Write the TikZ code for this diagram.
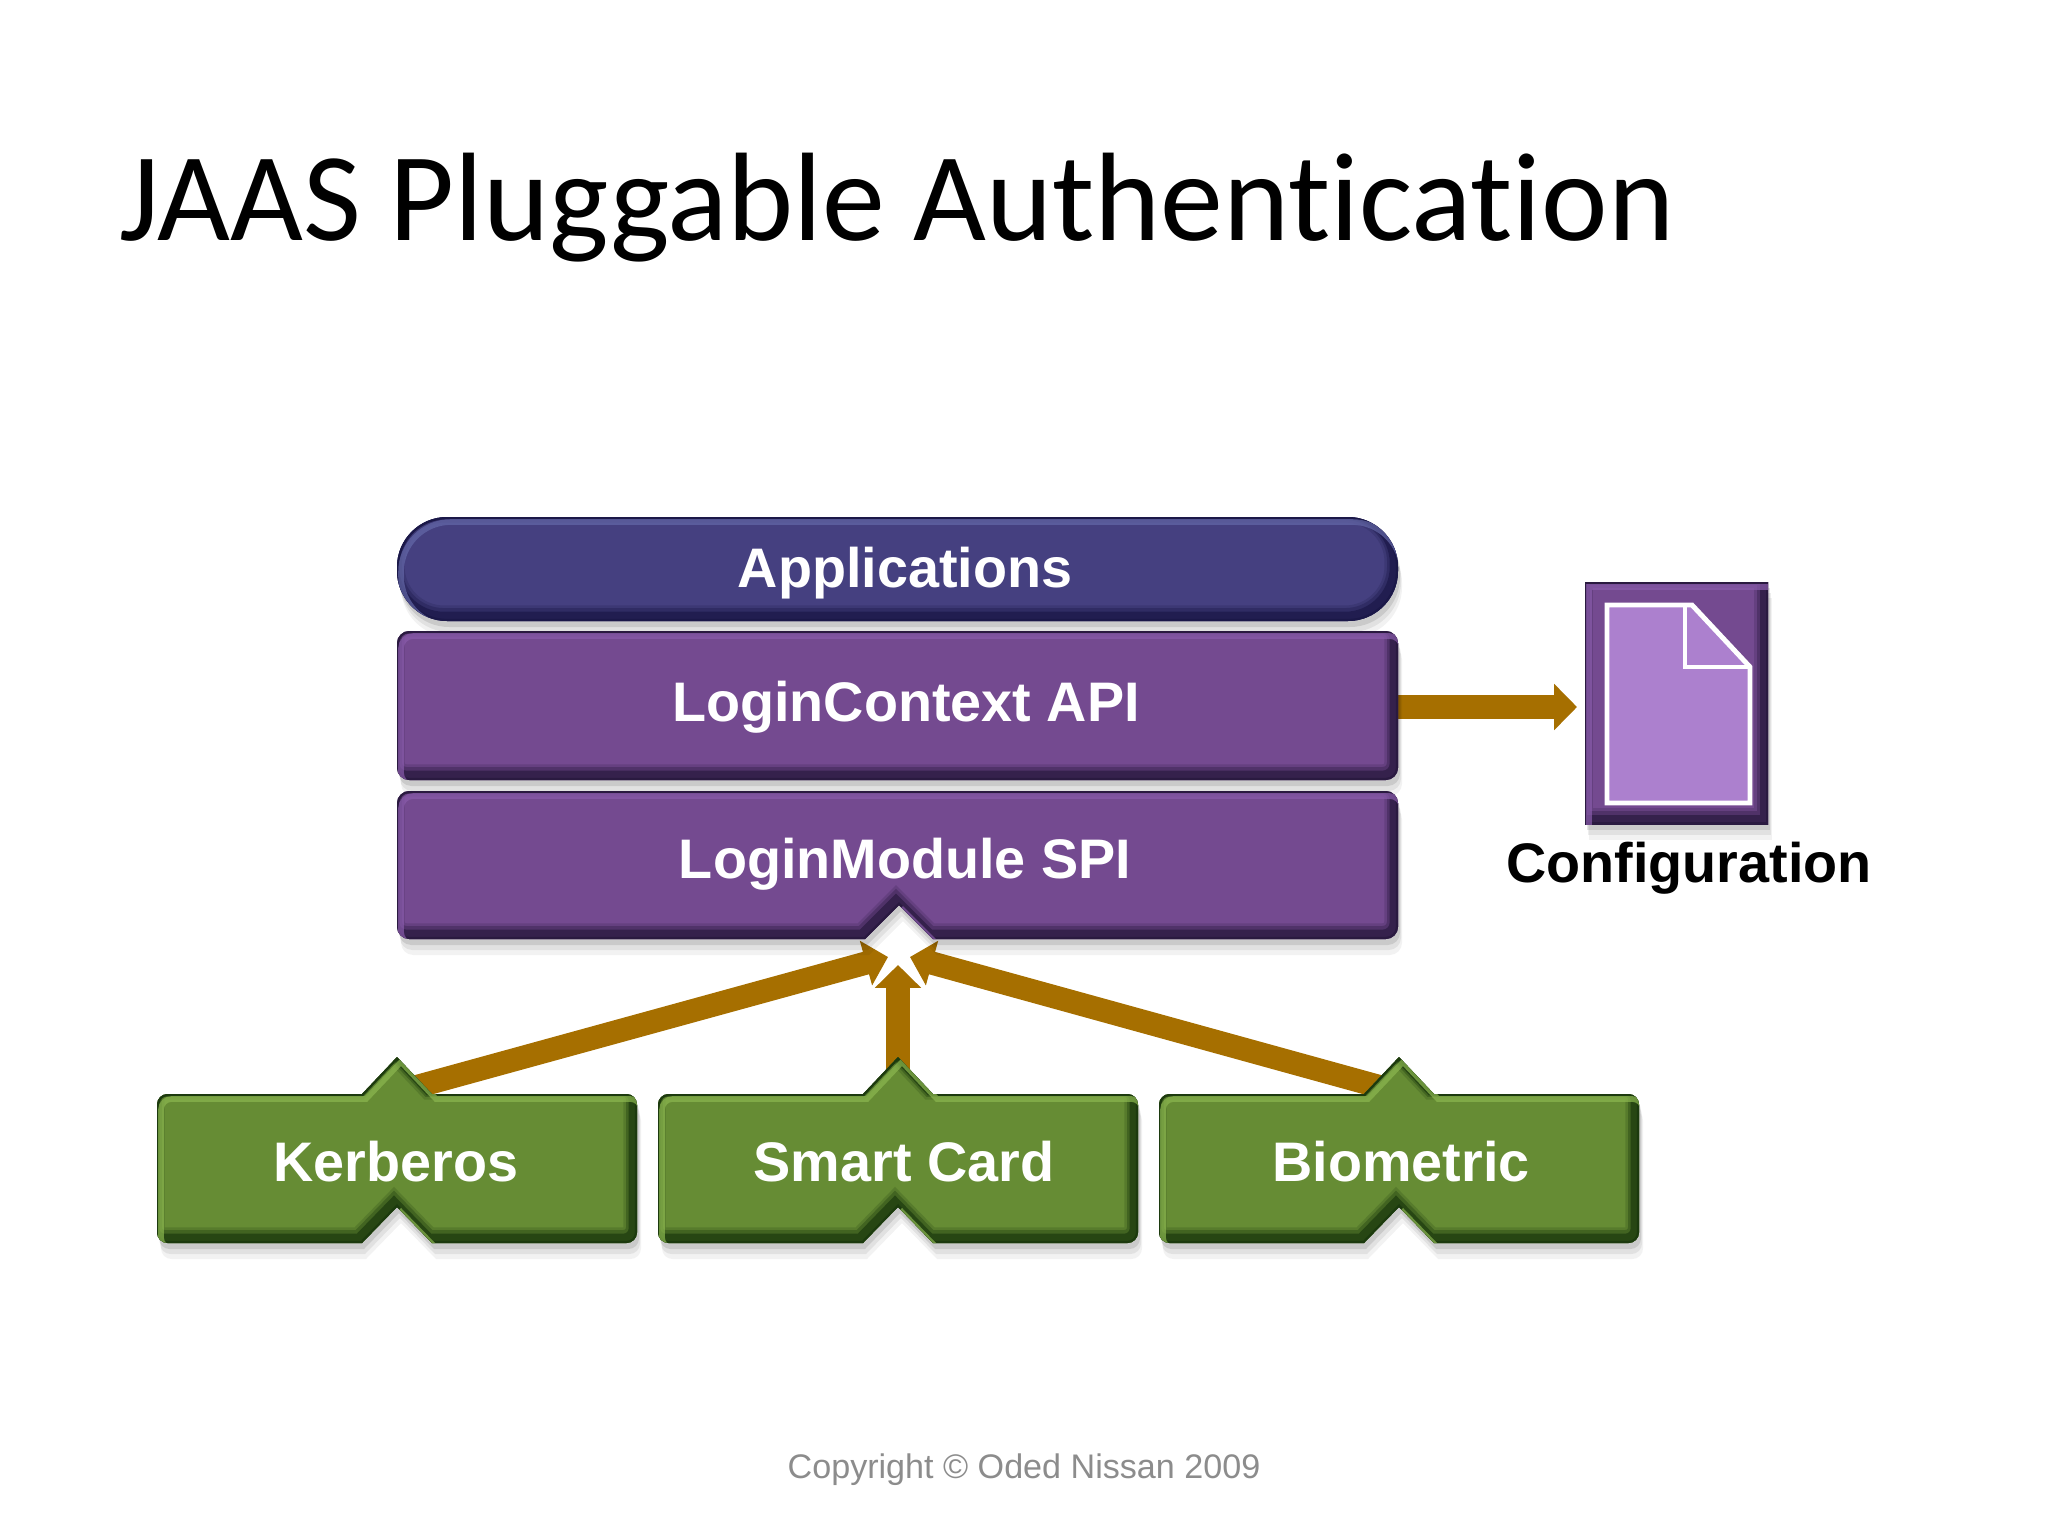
\documentclass[tikz,border=0pt]{standalone}
\usepackage{fontspec}
\setmainfont{Liberation Sans}
\newfontfamily\titlefont[Ligatures=NoCommon]{Carlito}
\usepackage{xcolor}
\usepackage{tikz}
\usetikzlibrary{arrows.meta,positioning}
\definecolor{navy}{HTML}{454080}
\definecolor{navydark}{HTML}{1B1848}
\definecolor{navylite}{HTML}{6468A8}
\definecolor{plum}{HTML}{744A90}
\definecolor{plumdark}{HTML}{2A1A40}
\definecolor{plumlite}{HTML}{8A5CAC}
\definecolor{moss}{HTML}{668C34}
\definecolor{mossdark}{HTML}{1C3A0E}
\definecolor{mosslite}{HTML}{8CB850}
\definecolor{amber}{HTML}{A66F00}
\definecolor{lilac}{HTML}{AC80CE}
\definecolor{slate}{HTML}{8C8C8C}
\tikzset{
  flow/.style={amber,line width=6.6pt,-{Triangle[length=6.5pt,width=12.8pt]}},
  boxlabel/.style={anchor=base,text=white,font=\fontsize{15.85}{18}\selectfont\bfseries,inner sep=0pt},
}
% bevelled block: #1 the path, #2 the colour family
\newcommand{\gembox}[2]{
\fill[black,opacity=.05,shift={(4,16)}] #1;
\fill[black,opacity=.07,shift={(3,11)}] #1;
\fill[black,opacity=.10,shift={(2,6)}] #1;
\begin{scope}
\clip #1;
\fill[#2] (0,0) rectangle (2048,1536);
\draw[#2dark,opacity=.2,line width=6pt,shift={(-3,-5)}] #1;
\draw[#2dark,opacity=.35,line width=4.5pt,shift={(-3,-5)}] #1;
\draw[#2dark,opacity=.7,line width=3pt,shift={(-3,-4)}] #1;
\draw[#2dark,line width=1.2pt] #1;
\draw[#2lite,opacity=.7,line width=1.6pt,shift={(4,5)}] #1;
\end{scope}
}
\newcommand{\greenpath}[1]{[rounded corners=3pt] (#1-100,1094) -- (#1-240,1094) -- (#1-240,1243) [sharp corners] -- (#1-35,1243) -- (#1,1207) -- (#1+35,1243) [rounded corners=3pt] -- (#1+240,1243) -- (#1+240,1094) [sharp corners] -- (#1+35,1094) -- (#1,1057) -- (#1-35,1094) -- cycle}
\begin{document}
\begin{tikzpicture}[x=0.01cm,y=-0.01cm]
\useasboundingbox (0,0) rectangle (2048,1536);
\node[anchor=base west,inner sep=0pt,font=\titlefont\fontsize{35.8}{40}\selectfont] (title) at (119,240) {JAAS Pluggable Authentication};
\coordinate (toothKerberos) at (397,1092);
\coordinate (toothSmart) at (898,1095);
\coordinate (toothBiometric) at (1399,1092);
\coordinate (inLeft) at (888,957);
\coordinate (inMid) at (898,965);
\coordinate (inRight) at (910,957);
\coordinate (ctxOut) at (1390,707);
\coordinate (cfgIn) at (1577,707);
\draw[flow] (toothKerberos) -- (inLeft);
\draw[flow] (toothSmart) -- (inMid);
\draw[flow] (toothBiometric) -- (inRight);
\draw[flow] (ctxOut) -- (cfgIn);
\gembox{[rounded corners=0.5cm] (397,517) rectangle (1398,621)}{navy}
\gembox{[rounded corners=3.5pt] (397,631) rectangle (1398,780)}{plum}
\gembox{[rounded corners=3.5pt] (500,791) -- (397,791) -- (397,939) [sharp corners] -- (865,939) -- (899,905) -- (933,939) [rounded corners=3.5pt] -- (1398,939) -- (1398,791) -- cycle}{plum}
\gembox{\greenpath{397}}{moss}
\gembox{\greenpath{898}}{moss}
\gembox{\greenpath{1399}}{moss}
\node[boxlabel] (apps) at (905,587) {Applications};
\node[boxlabel] (ctx) at (906,721) {LoginContext API};
\node[boxlabel] (module) at (905,878) {LoginModule SPI};
\node[boxlabel] (kerberos) at (396,1181) {Kerberos};
\node[boxlabel] (smart) at (904,1181) {Smart Card};
\node[boxlabel] (biometric) at (1401,1181) {Biometric};
\gembox{(1585,582) rectangle (1768,824)}{plum}
\fill[lilac,draw=white,line width=1.4pt] (1607,605) -- (1692,605) -- (1750,667) -- (1750,803) -- (1607,803) -- cycle;
\draw[white,line width=1.4pt] (1685,605) -- (1685,667) -- (1750,667);
\node[boxlabel,text=black] (config) at (1689,882) {Configuration};
\node[anchor=base,inner sep=0pt,text=slate,font=\fontsize{9.7}{11}\selectfont] (copy) at (1024,1478) {Copyright © Oded Nissan 2009};
\end{tikzpicture}
\end{document}
